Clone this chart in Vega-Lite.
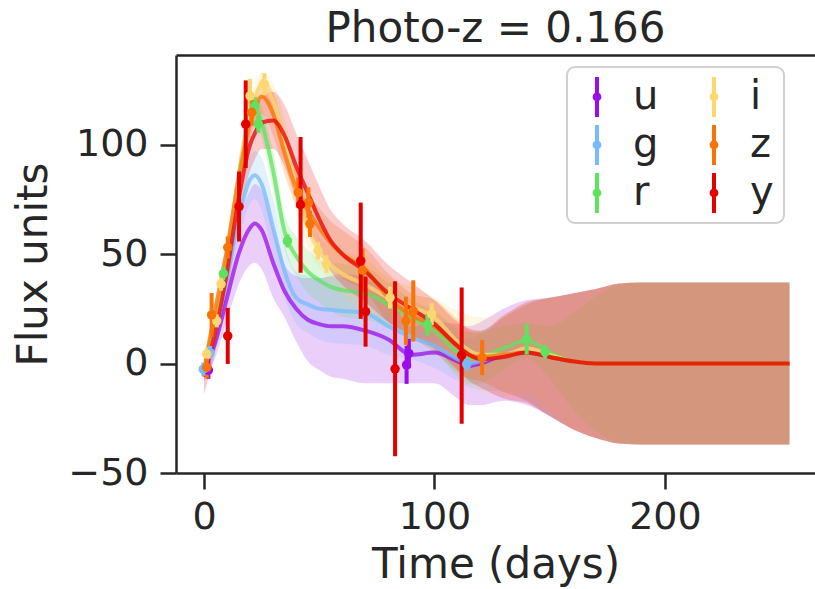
{
  "$schema": "https://vega.github.io/schema/vega-lite/v6.json",
  "width": 639,
  "height": 418,
  "autosize": {"type": "none"},
  "padding": {"left": 176, "top": 55, "right": 0, "bottom": 116},
  "background": "white",
  "title": {"text": "Photo-z = 0.166", "font": "DejaVu Sans", "fontSize": 42, "fontWeight": "normal", "color": "#262626", "anchor": "middle", "baseline": "alphabetic", "offset": -29},
  "datasets": {
    "gp": [
      {"band":"u","t":0,"m":-3,"lo":-8,"hi":2},{"band":"u","t":5,"m":10,"lo":3,"hi":17},{"band":"u","t":10,"m":30,"lo":20,"hi":40},{"band":"u","t":15,"m":50,"lo":36,"hi":64},{"band":"u","t":20,"m":62,"lo":45,"hi":79},{"band":"u","t":22,"m":64,"lo":46,"hi":82},{"band":"u","t":25,"m":61,"lo":43,"hi":79},{"band":"u","t":30,"m":46,"lo":30,"hi":62},{"band":"u","t":35,"m":33,"lo":21,"hi":45},{"band":"u","t":40,"m":25,"lo":10,"hi":40},{"band":"u","t":45,"m":20,"lo":1,"hi":39},{"band":"u","t":50,"m":18,"lo":-3,"hi":39},{"band":"u","t":55,"m":17,"lo":-6,"hi":40},{"band":"u","t":60,"m":17,"lo":-7,"hi":41},{"band":"u","t":70,"m":15,"lo":-9,"hi":39},{"band":"u","t":80,"m":11,"lo":-9,"hi":31},{"band":"u","t":90,"m":4,"lo":-9,"hi":17},{"band":"u","t":100,"m":5,"lo":-9,"hi":19},{"band":"u","t":110,"m":1,"lo":-16,"hi":18},{"band":"u","t":115,"m":-1,"lo":-19,"hi":17},{"band":"u","t":120,"m":0,"lo":-19,"hi":19},{"band":"u","t":130,"m":4,"lo":-17,"hi":25},{"band":"u","t":140,"m":5,"lo":-19,"hi":29},{"band":"u","t":150,"m":3,"lo":-24,"hi":30},{"band":"u","t":160,"m":1,"lo":-30,"hi":32},{"band":"u","t":170,"m":0,"lo":-34,"hi":34},{"band":"u","t":180,"m":0,"lo":-36.5,"hi":36.5},{"band":"u","t":190,"m":0,"lo":-37,"hi":37},{"band":"u","t":254,"m":0,"lo":-37,"hi":37},
      {"band":"g","t":0,"m":-3,"lo":-7,"hi":1},{"band":"g","t":5,"m":15,"lo":9,"hi":21},{"band":"g","t":10,"m":40,"lo":32,"hi":48},{"band":"g","t":15,"m":66,"lo":56,"hi":76},{"band":"g","t":20,"m":84,"lo":73,"hi":95},{"band":"g","t":22,"m":86,"lo":75,"hi":97},{"band":"g","t":25,"m":82,"lo":70,"hi":94},{"band":"g","t":30,"m":62,"lo":49,"hi":75},{"band":"g","t":35,"m":42,"lo":30,"hi":54},{"band":"g","t":40,"m":30,"lo":18,"hi":42},{"band":"g","t":45,"m":27,"lo":14,"hi":40},{"band":"g","t":50,"m":25,"lo":11,"hi":39},{"band":"g","t":55,"m":24.5,"lo":9.5,"hi":39.5},{"band":"g","t":60,"m":24,"lo":9,"hi":39},{"band":"g","t":70,"m":23,"lo":8,"hi":38},{"band":"g","t":80,"m":17,"lo":4,"hi":30},{"band":"g","t":90,"m":12,"lo":2,"hi":22},{"band":"g","t":100,"m":8,"lo":-2,"hi":18},{"band":"g","t":110,"m":2,"lo":-8,"hi":12},{"band":"g","t":115,"m":0,"lo":-11,"hi":11},{"band":"g","t":120,"m":1,"lo":-12,"hi":14},{"band":"g","t":130,"m":4,"lo":-13,"hi":21},{"band":"g","t":140,"m":5,"lo":-17,"hi":27},{"band":"g","t":150,"m":3,"lo":-24,"hi":30},{"band":"g","t":160,"m":1,"lo":-30,"hi":32},{"band":"g","t":170,"m":0,"lo":-34,"hi":34},{"band":"g","t":180,"m":0,"lo":-36.5,"hi":36.5},{"band":"g","t":190,"m":0,"lo":-37,"hi":37},{"band":"g","t":254,"m":0,"lo":-37,"hi":37},
      {"band":"r","t":0,"m":-3,"lo":-7,"hi":1},{"band":"r","t":5,"m":20,"lo":15,"hi":25},{"band":"r","t":10,"m":48,"lo":42,"hi":54},{"band":"r","t":15,"m":85,"lo":78,"hi":92},{"band":"r","t":20,"m":112,"lo":105,"hi":119},{"band":"r","t":22,"m":117,"lo":111,"hi":123},{"band":"r","t":25,"m":110,"lo":103,"hi":117},{"band":"r","t":30,"m":88,"lo":79,"hi":97},{"band":"r","t":35,"m":60,"lo":52,"hi":68},{"band":"r","t":40,"m":49,"lo":40,"hi":58},{"band":"r","t":45,"m":42,"lo":32,"hi":52},{"band":"r","t":50,"m":38,"lo":28,"hi":48},{"band":"r","t":55,"m":35,"lo":24,"hi":46},{"band":"r","t":60,"m":33.5,"lo":21.5,"hi":45.5},{"band":"r","t":70,"m":32,"lo":20,"hi":44},{"band":"r","t":80,"m":27,"lo":17,"hi":37},{"band":"r","t":90,"m":21,"lo":13,"hi":29},{"band":"r","t":100,"m":15,"lo":6,"hi":24},{"band":"r","t":110,"m":5,"lo":-6,"hi":16},{"band":"r","t":115,"m":2.5,"lo":-9.5,"hi":14.5},{"band":"r","t":120,"m":3,"lo":-9,"hi":15},{"band":"r","t":130,"m":7,"lo":-3,"hi":17},{"band":"r","t":140,"m":10.5,"lo":2.5,"hi":18.5},{"band":"r","t":150,"m":5,"lo":-7,"hi":17},{"band":"r","t":160,"m":1,"lo":-21,"hi":23},{"band":"r","t":170,"m":0,"lo":-31,"hi":31},{"band":"r","t":180,"m":0,"lo":-36,"hi":36},{"band":"r","t":190,"m":0,"lo":-37,"hi":37},{"band":"r","t":254,"m":0,"lo":-37,"hi":37},
      {"band":"i","t":0,"m":-2,"lo":-6,"hi":2},{"band":"i","t":5,"m":17,"lo":12,"hi":22},{"band":"i","t":10,"m":50,"lo":44,"hi":56},{"band":"i","t":15,"m":85,"lo":78,"hi":92},{"band":"i","t":20,"m":115,"lo":109,"hi":121},{"band":"i","t":22,"m":121,"lo":115,"hi":127},{"band":"i","t":25,"m":127,"lo":121,"hi":133},{"band":"i","t":30,"m":120,"lo":112,"hi":128},{"band":"i","t":35,"m":102,"lo":92,"hi":112},{"band":"i","t":40,"m":80,"lo":70,"hi":90},{"band":"i","t":45,"m":62,"lo":53,"hi":71},{"band":"i","t":50,"m":51,"lo":44,"hi":58},{"band":"i","t":55,"m":45,"lo":37,"hi":53},{"band":"i","t":60,"m":41,"lo":31,"hi":51},{"band":"i","t":70,"m":36,"lo":24,"hi":48},{"band":"i","t":80,"m":30,"lo":21,"hi":39},{"band":"i","t":90,"m":26,"lo":17,"hi":35},{"band":"i","t":100,"m":21,"lo":12,"hi":30},{"band":"i","t":110,"m":10,"lo":-4,"hi":24},{"band":"i","t":115,"m":6,"lo":-10,"hi":22},{"band":"i","t":120,"m":4,"lo":-13,"hi":21},{"band":"i","t":130,"m":4,"lo":-15,"hi":23},{"band":"i","t":140,"m":7,"lo":-14,"hi":28},{"band":"i","t":150,"m":4,"lo":-22,"hi":30},{"band":"i","t":160,"m":1,"lo":-30,"hi":32},{"band":"i","t":170,"m":0,"lo":-34,"hi":34},{"band":"i","t":180,"m":0,"lo":-36.5,"hi":36.5},{"band":"i","t":190,"m":0,"lo":-37,"hi":37},{"band":"i","t":254,"m":0,"lo":-37,"hi":37},
      {"band":"z","t":0,"m":-3,"lo":-8,"hi":2},{"band":"z","t":5,"m":25,"lo":19,"hi":31},{"band":"z","t":10,"m":52,"lo":46,"hi":58},{"band":"z","t":15,"m":84,"lo":77,"hi":91},{"band":"z","t":20,"m":110,"lo":103,"hi":117},{"band":"z","t":22,"m":116,"lo":109,"hi":123},{"band":"z","t":25,"m":122,"lo":114,"hi":130},{"band":"z","t":30,"m":114,"lo":104,"hi":124},{"band":"z","t":35,"m":96,"lo":86,"hi":106},{"band":"z","t":40,"m":80,"lo":72,"hi":88},{"band":"z","t":45,"m":70,"lo":62,"hi":78},{"band":"z","t":50,"m":62,"lo":53,"hi":71},{"band":"z","t":55,"m":55,"lo":45,"hi":65},{"band":"z","t":60,"m":50,"lo":39,"hi":61},{"band":"z","t":70,"m":43,"lo":33,"hi":53},{"band":"z","t":80,"m":30,"lo":19,"hi":41},{"band":"z","t":90,"m":22,"lo":12,"hi":32},{"band":"z","t":100,"m":17,"lo":5,"hi":29},{"band":"z","t":110,"m":8,"lo":-4,"hi":20},{"band":"z","t":115,"m":4,"lo":-7,"hi":15},{"band":"z","t":120,"m":3,"lo":-8,"hi":14},{"band":"z","t":130,"m":4,"lo":-13,"hi":21},{"band":"z","t":140,"m":5,"lo":-17,"hi":27},{"band":"z","t":150,"m":3,"lo":-24,"hi":30},{"band":"z","t":160,"m":1,"lo":-30,"hi":32},{"band":"z","t":170,"m":0,"lo":-34,"hi":34},{"band":"z","t":180,"m":0,"lo":-36.5,"hi":36.5},{"band":"z","t":190,"m":0,"lo":-37,"hi":37},{"band":"z","t":254,"m":0,"lo":-37,"hi":37},
      {"band":"y","t":0,"m":-6,"lo":-14,"hi":2},{"band":"y","t":5,"m":15,"lo":6,"hi":24},{"band":"y","t":10,"m":42,"lo":32,"hi":52},{"band":"y","t":15,"m":75,"lo":64,"hi":86},{"band":"y","t":20,"m":100,"lo":88,"hi":112},{"band":"y","t":22,"m":105,"lo":93,"hi":117},{"band":"y","t":25,"m":110,"lo":98,"hi":122},{"band":"y","t":30,"m":111,"lo":98,"hi":124},{"band":"y","t":35,"m":104,"lo":90,"hi":118},{"band":"y","t":40,"m":90,"lo":75,"hi":105},{"band":"y","t":45,"m":78,"lo":63,"hi":93},{"band":"y","t":50,"m":66,"lo":51,"hi":81},{"band":"y","t":55,"m":56,"lo":42,"hi":70},{"band":"y","t":60,"m":50,"lo":36,"hi":64},{"band":"y","t":70,"m":42,"lo":28,"hi":56},{"band":"y","t":80,"m":32,"lo":19,"hi":45},{"band":"y","t":90,"m":25,"lo":13,"hi":37},{"band":"y","t":100,"m":18,"lo":7,"hi":29},{"band":"y","t":110,"m":8,"lo":-3,"hi":19},{"band":"y","t":115,"m":4,"lo":-8,"hi":16},{"band":"y","t":120,"m":2,"lo":-11,"hi":15},{"band":"y","t":130,"m":3,"lo":-16,"hi":22},{"band":"y","t":140,"m":5,"lo":-18,"hi":28},{"band":"y","t":150,"m":3,"lo":-24,"hi":30},{"band":"y","t":160,"m":1,"lo":-30,"hi":32},{"band":"y","t":170,"m":0,"lo":-34,"hi":34},{"band":"y","t":180,"m":0,"lo":-36.5,"hi":36.5},{"band":"y","t":190,"m":0,"lo":-37,"hi":37},{"band":"y","t":254,"m":0,"lo":-37,"hi":37}
    ],
    "obs": [
      {"band":"u","t":1.9,"f":-3,"lo":-7,"hi":1},{"band":"u","t":87.9,"f":-0.6,"lo":-9.3,"hi":8.1},{"band":"u","t":88.9,"f":4.6,"lo":-2.1,"hi":11.3},
      {"band":"g","t":-0.3,"f":-2.6,"lo":-5.6,"hi":0.4},{"band":"g","t":2.6,"f":5,"lo":2,"hi":8},{"band":"g","t":114,"f":-0.3,"lo":-3.3,"hi":2.7},
      {"band":"r","t":8.4,"f":41.1,"lo":38.1,"hi":44.1},{"band":"r","t":22.1,"f":117.7,"lo":113.7,"hi":121.7},{"band":"r","t":23.6,"f":109.3,"lo":105.3,"hi":113.3},{"band":"r","t":36.2,"f":56,"lo":53,"hi":59},{"band":"r","t":96.9,"f":17.7,"lo":12.7,"hi":22.7},{"band":"r","t":140,"f":11.1,"lo":4.1,"hi":18.1},{"band":"r","t":148,"f":5.3,"lo":2.3,"hi":8.3},
      {"band":"i","t":1.2,"f":4.3,"lo":1.3,"hi":7.3},{"band":"i","t":5.5,"f":19.5,"lo":16.5,"hi":22.5},{"band":"i","t":7.4,"f":36.3,"lo":33.3,"hi":39.3},{"band":"i","t":20,"f":122.2,"lo":114,"hi":130},{"band":"i","t":26.2,"f":127.6,"lo":122.6,"hi":132.6},{"band":"i","t":49.5,"f":51.5,"lo":47.5,"hi":55.5},{"band":"i","t":53.1,"f":45.4,"lo":41.4,"hi":49.4},{"band":"i","t":80.7,"f":30.1,"lo":25.1,"hi":35.1},{"band":"i","t":98.8,"f":22.6,"lo":17.6,"hi":27.6},
      {"band":"z","t":1.2,"f":-1.8,"lo":-6.8,"hi":3.2},{"band":"z","t":3.3,"f":22.2,"lo":12.2,"hi":32.2},{"band":"z","t":10.3,"f":53,"lo":48,"hi":58},{"band":"z","t":20.7,"f":114.6,"lo":108.6,"hi":120.6},{"band":"z","t":40.9,"f":78,"lo":71,"hi":85},{"band":"z","t":45.3,"f":73.5,"lo":66.5,"hi":80.5},{"band":"z","t":46,"f":63.8,"lo":57.8,"hi":69.8},{"band":"z","t":68.8,"f":42.6,"lo":32.6,"hi":52.6},{"band":"z","t":87.6,"f":19.5,"lo":8.5,"hi":30.5},{"band":"z","t":90.8,"f":24,"lo":10,"hi":38},{"band":"z","t":120.7,"f":2.7,"lo":-5.3,"hi":10.7},
      {"band":"y","t":10.3,"f":12.6,"lo":-0.2,"hi":25.4},{"band":"y","t":15.2,"f":71.7,"lo":55.7,"hi":87.7},{"band":"y","t":18.1,"f":109.3,"lo":89.3,"hi":129.3},{"band":"y","t":41.9,"f":72.5,"lo":41.5,"hi":103.5},{"band":"y","t":68,"f":46.9,"lo":20.4,"hi":73.5},{"band":"y","t":70.1,"f":23.7,"lo":7.7,"hi":39.7},{"band":"y","t":82.9,"f":-2.4,"lo":-42.4,"hi":37.6},{"band":"y","t":111.8,"f":3.8,"lo":-27.5,"hi":34.7}
    ]
  },
  "layer": [
    {
      "data": {"name": "gp"},
      "mark": {"type": "area", "interpolate": "monotone", "opacity": 0.2},
      "encoding": {
        "x": {"field": "t", "type": "quantitative", "scale": {"domain": [-12.15, 265.1], "nice": false, "zero": false},
              "axis": {"orient": "bottom", "values": [0, 100, 200], "title": "Time (days)", "labelPadding": 9, "titlePadding": 8}},
        "y": {"field": "lo", "type": "quantitative", "scale": {"domain": [-50, 140.9], "nice": false, "zero": false},
              "axis": {"values": [-50, 0, 50, 100], "title": "Flux units", "labelPadding": 12, "titlePadding": 12}},
        "y2": {"field": "hi"},
        "color": {"field": "band", "type": "nominal", "scale": {"domain": ["u", "g", "r", "i", "z", "y"], "range": ["#9a0eea", "#75bbfd", "#61e160", "#fcd770", "#f97306", "#e50000"]}}
      }
    },
    {
      "data": {"name": "gp"},
      "mark": {"type": "line", "interpolate": "monotone", "strokeWidth": 4, "opacity": 0.75},
      "encoding": {
        "x": {"field": "t", "type": "quantitative", "axis": null},
        "y": {"field": "m", "type": "quantitative"},
        "color": {"field": "band", "type": "nominal"}
      }
    },
    {
      "data": {"name": "obs"},
      "mark": {"type": "rule", "strokeWidth": 4},
      "encoding": {
        "x": {"field": "t", "type": "quantitative", "axis": null},
        "y": {"field": "lo", "type": "quantitative"},
        "y2": {"field": "hi"},
        "color": {"field": "band", "type": "nominal"}
      }
    },
    {
      "data": {"name": "obs"},
      "mark": {"type": "point", "filled": true, "size": 90, "opacity": 1, "shape": "circle"},
      "encoding": {
        "x": {"field": "t", "type": "quantitative", "axis": {"orient": "top", "title": null, "labels": false, "ticks": false, "domain": true}},
        "y": {"field": "f", "type": "quantitative"},
        "color": {"field": "band", "type": "nominal"}
      }
    }
  ],
  "resolve": {"axis": {"x": "independent"}},
  "config": {
    "view": {"stroke": null},
    "font": "DejaVu Sans",
    "axis": {"domainColor": "#262626", "domainWidth": 2.5, "tickColor": "#262626", "tickWidth": 2.5, "tickSize": 16, "labelFont": "DejaVu Sans", "labelFontSize": 38, "labelColor": "#262626", "titleFont": "DejaVu Sans", "titleFontSize": 42, "titleFontWeight": "normal", "titleColor": "#262626", "grid": false},
    "legend": {"orient": "none", "legendX": 391, "legendY": 12, "columns": 2, "title": "\u00a0", "titleOrient": "left", "titleFontSize": 10, "titlePadding": 19, "symbolType": "M-0.1,-1L0.1,-1L0.1,1L-0.1,1Z M0.22,0A0.22,0.22 0 1,1 -0.22,0A0.22,0.22 0 1,1 0.22,0Z", "symbolSize": 1600, "symbolStrokeWidth": 0, "symbolOpacity": 1, "symbolFillColor": "#888888", "labelFont": "DejaVu Sans", "labelFontSize": 40, "labelColor": "#262626", "labelOffset": 16, "columnPadding": 35, "rowPadding": 8, "padding": 10, "strokeColor": "#d0d0d0", "strokeWidth": 2, "cornerRadius": 8, "fillColor": "#ffffff"}
  }
}
